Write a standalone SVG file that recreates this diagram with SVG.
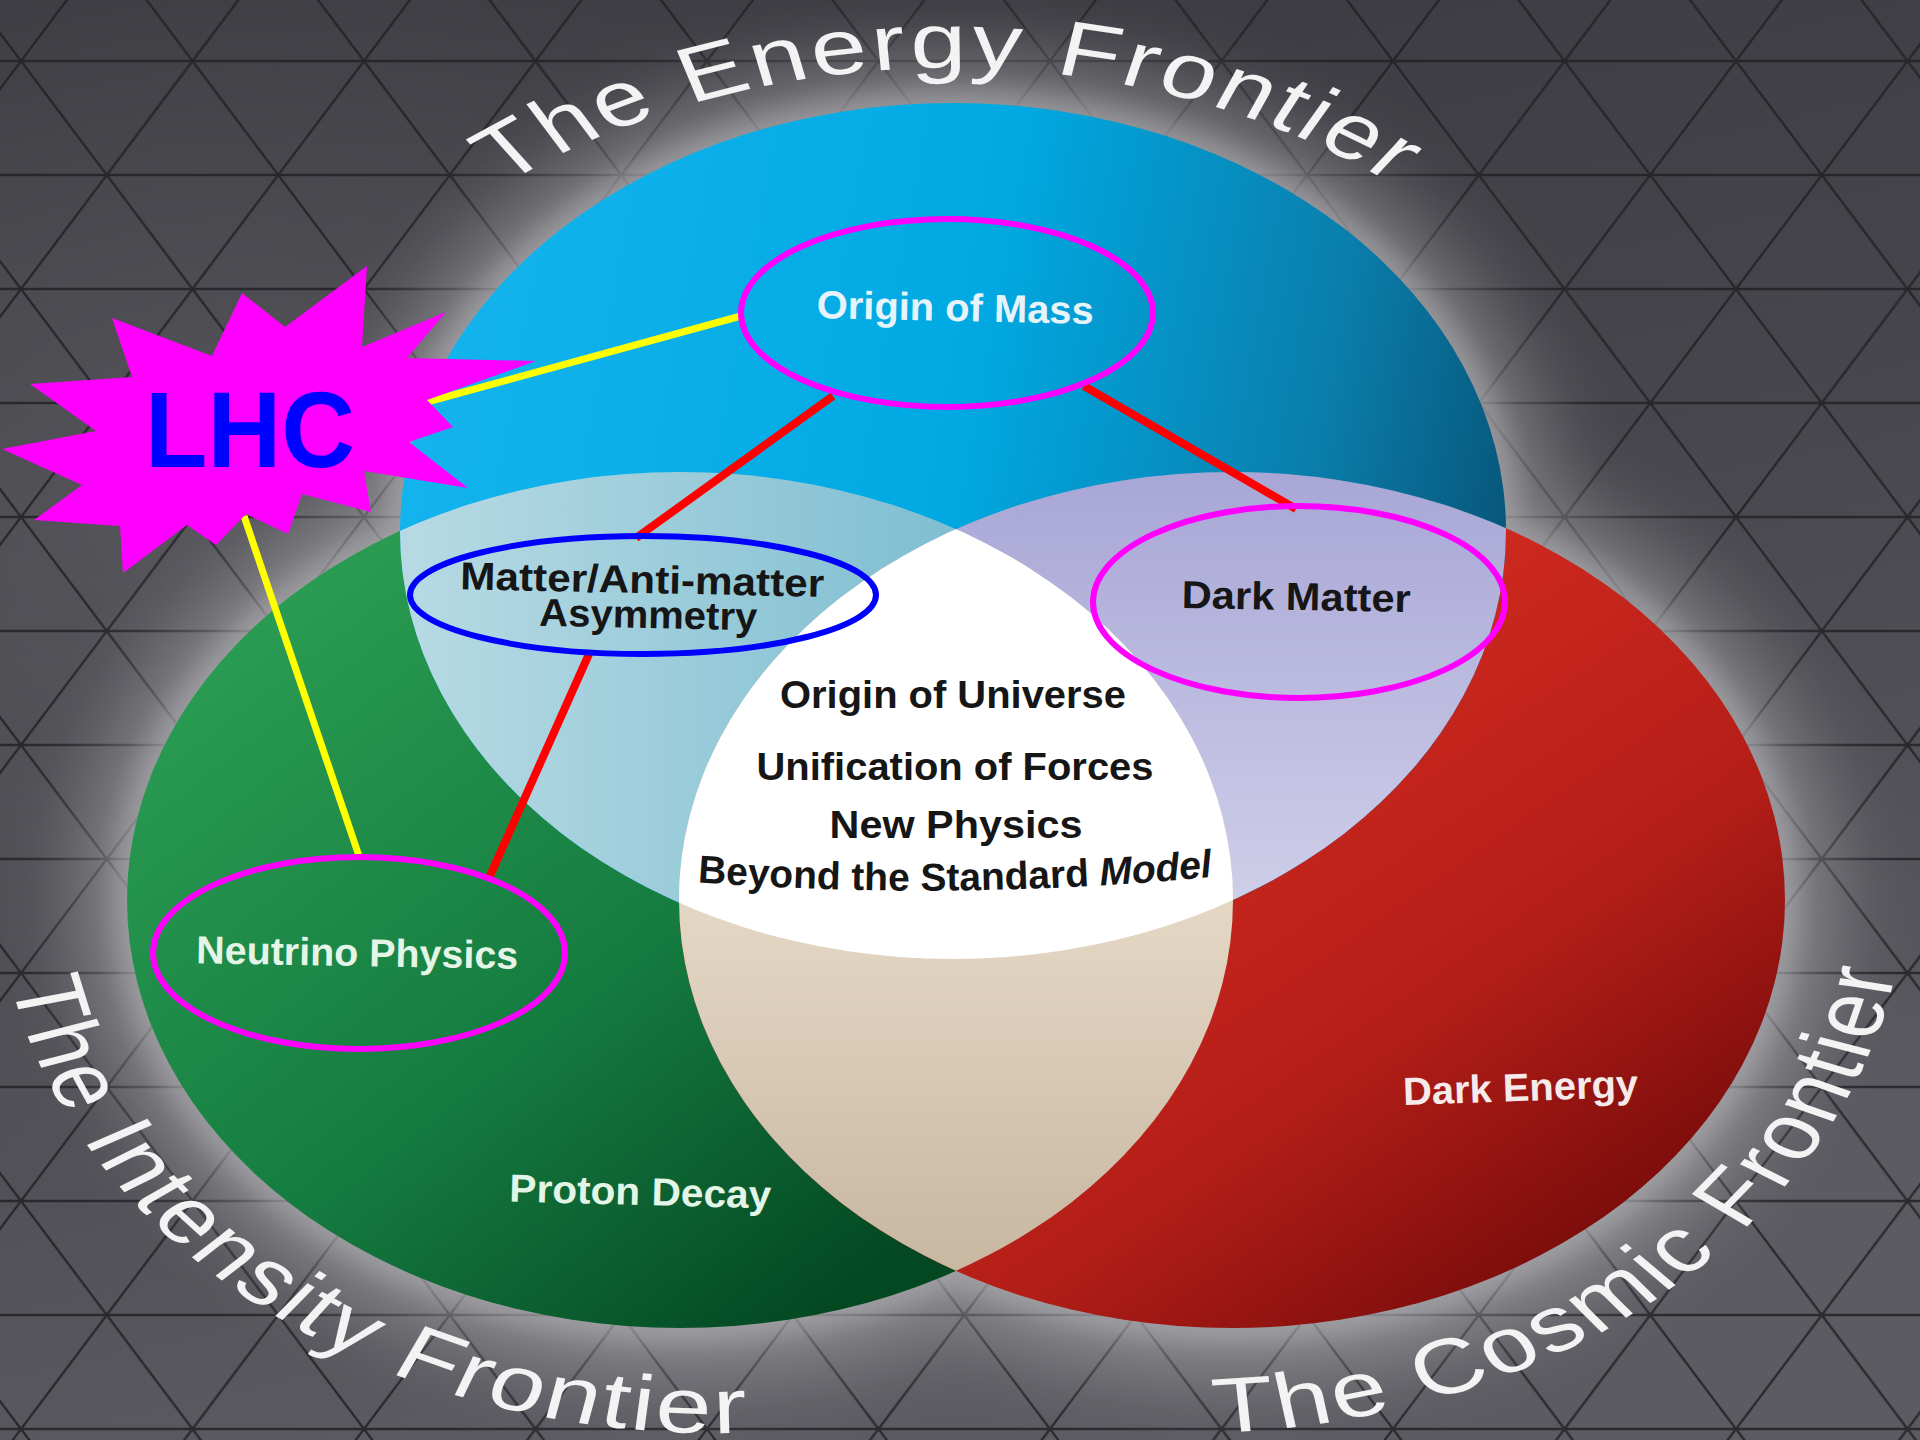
<svg xmlns="http://www.w3.org/2000/svg" width="1920" height="1440" viewBox="0 0 1920 1440">
<style>
.title{font-family:"Liberation Sans",Arial,sans-serif;font-size:78px;fill:#f3f3f3;}
.lbl{font-family:"Liberation Sans",Arial,sans-serif;font-size:39px;font-weight:bold;text-anchor:middle;}
.dark{fill:#161616;}
.ring{fill:none;stroke-width:6;}
.mag{stroke:#ff00ff;}
.yel{stroke:#ffff00;stroke-width:7;}
.red{stroke:#ff0000;stroke-width:8;}
</style>
<defs>
<linearGradient id="bg" x1="0" y1="0" x2="0.3" y2="1">
<stop offset="0" stop-color="#38373d"/>
<stop offset="0.5" stop-color="#47464c"/>
<stop offset="1" stop-color="#5c5b61"/>
</linearGradient>
<radialGradient id="bgl" cx="0.12" cy="0.35" r="0.5">
<stop offset="0" stop-color="#6a696e" stop-opacity="0.5"/>
<stop offset="1" stop-color="#6a696e" stop-opacity="0"/>
</radialGradient>
<pattern id="grid" patternUnits="userSpaceOnUse" x="21" y="61" width="171.5" height="228">
<path d="M0,0H171.5M0,114H171.5M0,228H171.5M0,0L171.5,228M171.5,0L0,228" stroke="#222126" stroke-width="2.4" fill="none"/>
</pattern>
<filter id="b40" x="-30%" y="-30%" width="160%" height="160%"><feGaussianBlur stdDeviation="40"/></filter>
<filter id="b12" x="-30%" y="-30%" width="160%" height="160%"><feGaussianBlur stdDeviation="12"/></filter>
<linearGradient id="gBlue" gradientUnits="userSpaceOnUse" x1="420" y1="300" x2="1506" y2="500">
<stop offset="0" stop-color="#14b4ee"/>
<stop offset="0.5" stop-color="#00a9e2"/>
<stop offset="0.82" stop-color="#0a7eac"/>
<stop offset="1" stop-color="#08587c"/>
</linearGradient>
<linearGradient id="gGreen" gradientUnits="userSpaceOnUse" x1="250" y1="620" x2="800" y2="1330">
<stop offset="0" stop-color="#2a9c52"/>
<stop offset="0.55" stop-color="#157c40"/>
<stop offset="1" stop-color="#044822"/>
</linearGradient>
<linearGradient id="gRed" gradientUnits="userSpaceOnUse" x1="1250" y1="650" x2="1700" y2="1300">
<stop offset="0" stop-color="#d02a20"/>
<stop offset="0.5" stop-color="#b41e18"/>
<stop offset="1" stop-color="#650606"/>
</linearGradient>
<linearGradient id="gBG" gradientUnits="userSpaceOnUse" x1="420" y1="0" x2="960" y2="0">
<stop offset="0" stop-color="#b6d9e3"/>
<stop offset="1" stop-color="#7ebed1"/>
</linearGradient>
<linearGradient id="gBR" gradientUnits="userSpaceOnUse" x1="0" y1="470" x2="0" y2="900">
<stop offset="0" stop-color="#a8a6d5"/>
<stop offset="1" stop-color="#cecee9"/>
</linearGradient>
<linearGradient id="gGR" gradientUnits="userSpaceOnUse" x1="0" y1="900" x2="0" y2="1270">
<stop offset="0" stop-color="#e4d8c5"/>
<stop offset="1" stop-color="#c8b7a1"/>
</linearGradient>
<clipPath id="cB"><ellipse cx="953" cy="531" rx="553" ry="428"/></clipPath>
<clipPath id="cG"><ellipse cx="680" cy="900" rx="553" ry="428"/></clipPath>
<path id="arcTop" d="M417.1,440.4 A566,566 0 0 1 1480.9,440.4"/>
<path id="arcBL" d="M167.5,779.3 A557,557 0 0 0 994.5,1358.4"/>
<path id="arcBR" d="M909.5,1358.4 A557,557 0 0 0 1711.4,685.5"/>
<path id="arcModel" d="M670,880 Q955,904 1240,874"/>
</defs>

<!-- background -->
<rect width="1920" height="1440" fill="url(#bg)"/>
<rect width="1920" height="1440" fill="url(#bgl)"/>
<rect width="1920" height="1440" fill="url(#grid)" opacity="0.85"/>

<!-- glow around the Venn diagram -->
<g filter="url(#b40)" fill="#d0d0d4" opacity="0.42">
<ellipse cx="953" cy="531" rx="600" ry="475"/>
<ellipse cx="680" cy="900" rx="600" ry="475"/>
<ellipse cx="1232" cy="900" rx="600" ry="475"/>
</g>
<g filter="url(#b12)" fill="#bcbcc0" opacity="0.45">
<ellipse cx="953" cy="531" rx="566" ry="441"/>
<ellipse cx="680" cy="900" rx="566" ry="441"/>
<ellipse cx="1232" cy="900" rx="566" ry="441"/>
</g>

<!-- Venn regions -->
<g id="venn">
<ellipse id="circle-intensity" cx="680" cy="900" rx="553" ry="428" fill="url(#gGreen)"/>
<ellipse id="circle-cosmic" cx="1232" cy="900" rx="553" ry="428" fill="url(#gRed)"/>
<ellipse id="circle-energy" cx="953" cy="531" rx="553" ry="428" fill="url(#gBlue)"/>
<ellipse cx="680" cy="900" rx="553" ry="428" fill="url(#gBG)" clip-path="url(#cB)"/>
<ellipse cx="1232" cy="900" rx="553" ry="428" fill="url(#gBR)" clip-path="url(#cB)"/>
<ellipse cx="1232" cy="900" rx="553" ry="428" fill="url(#gGR)" clip-path="url(#cG)"/>
<g clip-path="url(#cB)">
<ellipse cx="1232" cy="900" rx="553" ry="428" fill="#ffffff" clip-path="url(#cG)"/>
</g>
</g>

<!-- frontier titles -->
<g id="title-energy" transform="matrix(1.29,0,0,1,-275.2,0)">
<text class="title" letter-spacing="2.5" text-anchor="middle"><textPath href="#arcTop" startOffset="50%">The Energy Frontier</textPath></text>
</g>
<g id="title-intensity" transform="matrix(1.29,0,0,1,-207.6,0)">
<text class="title" letter-spacing="2.6" text-anchor="middle"><textPath href="#arcBL" startOffset="47.6%">The Intensity Frontier</textPath></text>
</g>
<g id="title-cosmic" transform="matrix(1.29,0,0,1,-344.5,0)">
<text class="title" letter-spacing="2.8" text-anchor="middle"><textPath href="#arcBR" startOffset="50.9%">The Cosmic Frontier</textPath></text>
</g>

<!-- region labels -->
<g id="label-center">
<text class="lbl dark" x="953" y="708" textLength="346" lengthAdjust="spacingAndGlyphs">Origin of Universe</text>
<text class="lbl dark" x="955" y="780" textLength="397" lengthAdjust="spacingAndGlyphs">Unification of Forces</text>
<text class="lbl dark" x="956" y="838" font-size="38" textLength="253" lengthAdjust="spacingAndGlyphs">New Physics</text>
<text class="lbl dark" font-size="38"><textPath href="#arcModel" startOffset="50%">Beyond the Standard <tspan font-style="italic">Model</tspan></textPath></text>
</g>
<g id="label-dark-energy">
<text class="lbl" fill="#f6eaea" x="1521" y="1101" textLength="235" lengthAdjust="spacingAndGlyphs" transform="rotate(-2 1521 1101)">Dark Energy</text>
</g>
<g id="label-proton-decay">
<text class="lbl" fill="#e2f5e6" x="640" y="1205" textLength="262" lengthAdjust="spacingAndGlyphs" transform="rotate(1.5 640 1205)">Proton Decay</text>
</g>

<!-- connectors -->
<g id="connectors" fill="none">
<line class="yel" x1="427" y1="402" x2="741" y2="316"/>
<line class="yel" x1="244" y1="516" x2="359" y2="856"/>
<line class="red" x1="833" y1="396" x2="636" y2="538"/>
<line class="red" x1="1084" y1="386" x2="1296" y2="509"/>
<line class="red" x1="589" y1="654" x2="489" y2="878"/>
</g>

<!-- nodes -->
<g id="node-lhc">
<polygon fill="#ff00ff" points="367,266 362,347 446,312 407,358 536,361 427,400 453,427 409,442 468,488 364,471 371,512 302,494 288,534 246,514 216,545 187,525 123,573 120,526 34,520 82,485 2,449 96,431 30,384 132,377 112,318 212,356 242,293 285,327"/>
<text x="145" y="467" font-family="'Liberation Sans',Arial,sans-serif" font-weight="bold" font-size="108" fill="#0000ff" textLength="210" lengthAdjust="spacingAndGlyphs">LHC</text>
</g>
<g id="node-origin-of-mass">
<ellipse class="ring mag" cx="947" cy="313" rx="206" ry="94"/>
<text class="lbl" fill="#e6f3f9" x="955" y="321" textLength="277" lengthAdjust="spacingAndGlyphs" transform="rotate(1.2 955 321)">Origin of Mass</text>
</g>
<g id="node-matter-antimatter">
<ellipse class="ring" stroke="#0000ff" stroke-width="7" cx="643" cy="595" rx="233" ry="59"/>
<text class="lbl dark" x="642" y="593" textLength="364" lengthAdjust="spacingAndGlyphs" transform="rotate(1.2 642 593)">Matter/Anti-matter</text>
<text class="lbl dark" x="648" y="628" textLength="218" lengthAdjust="spacingAndGlyphs" transform="rotate(1.2 648 628)">Asymmetry</text>
</g>
<g id="node-dark-matter">
<ellipse class="ring mag" cx="1299" cy="602" rx="206" ry="96"/>
<text class="lbl dark" x="1296" y="610" textLength="229" lengthAdjust="spacingAndGlyphs" transform="rotate(1 1296 610)">Dark Matter</text>
</g>
<g id="node-neutrino">
<ellipse class="ring mag" cx="359" cy="953" rx="206" ry="96"/>
<text class="lbl" fill="#e4f4e6" x="357" y="966" textLength="322" lengthAdjust="spacingAndGlyphs" transform="rotate(1 357 966)">Neutrino Physics</text>
</g>
</svg>
